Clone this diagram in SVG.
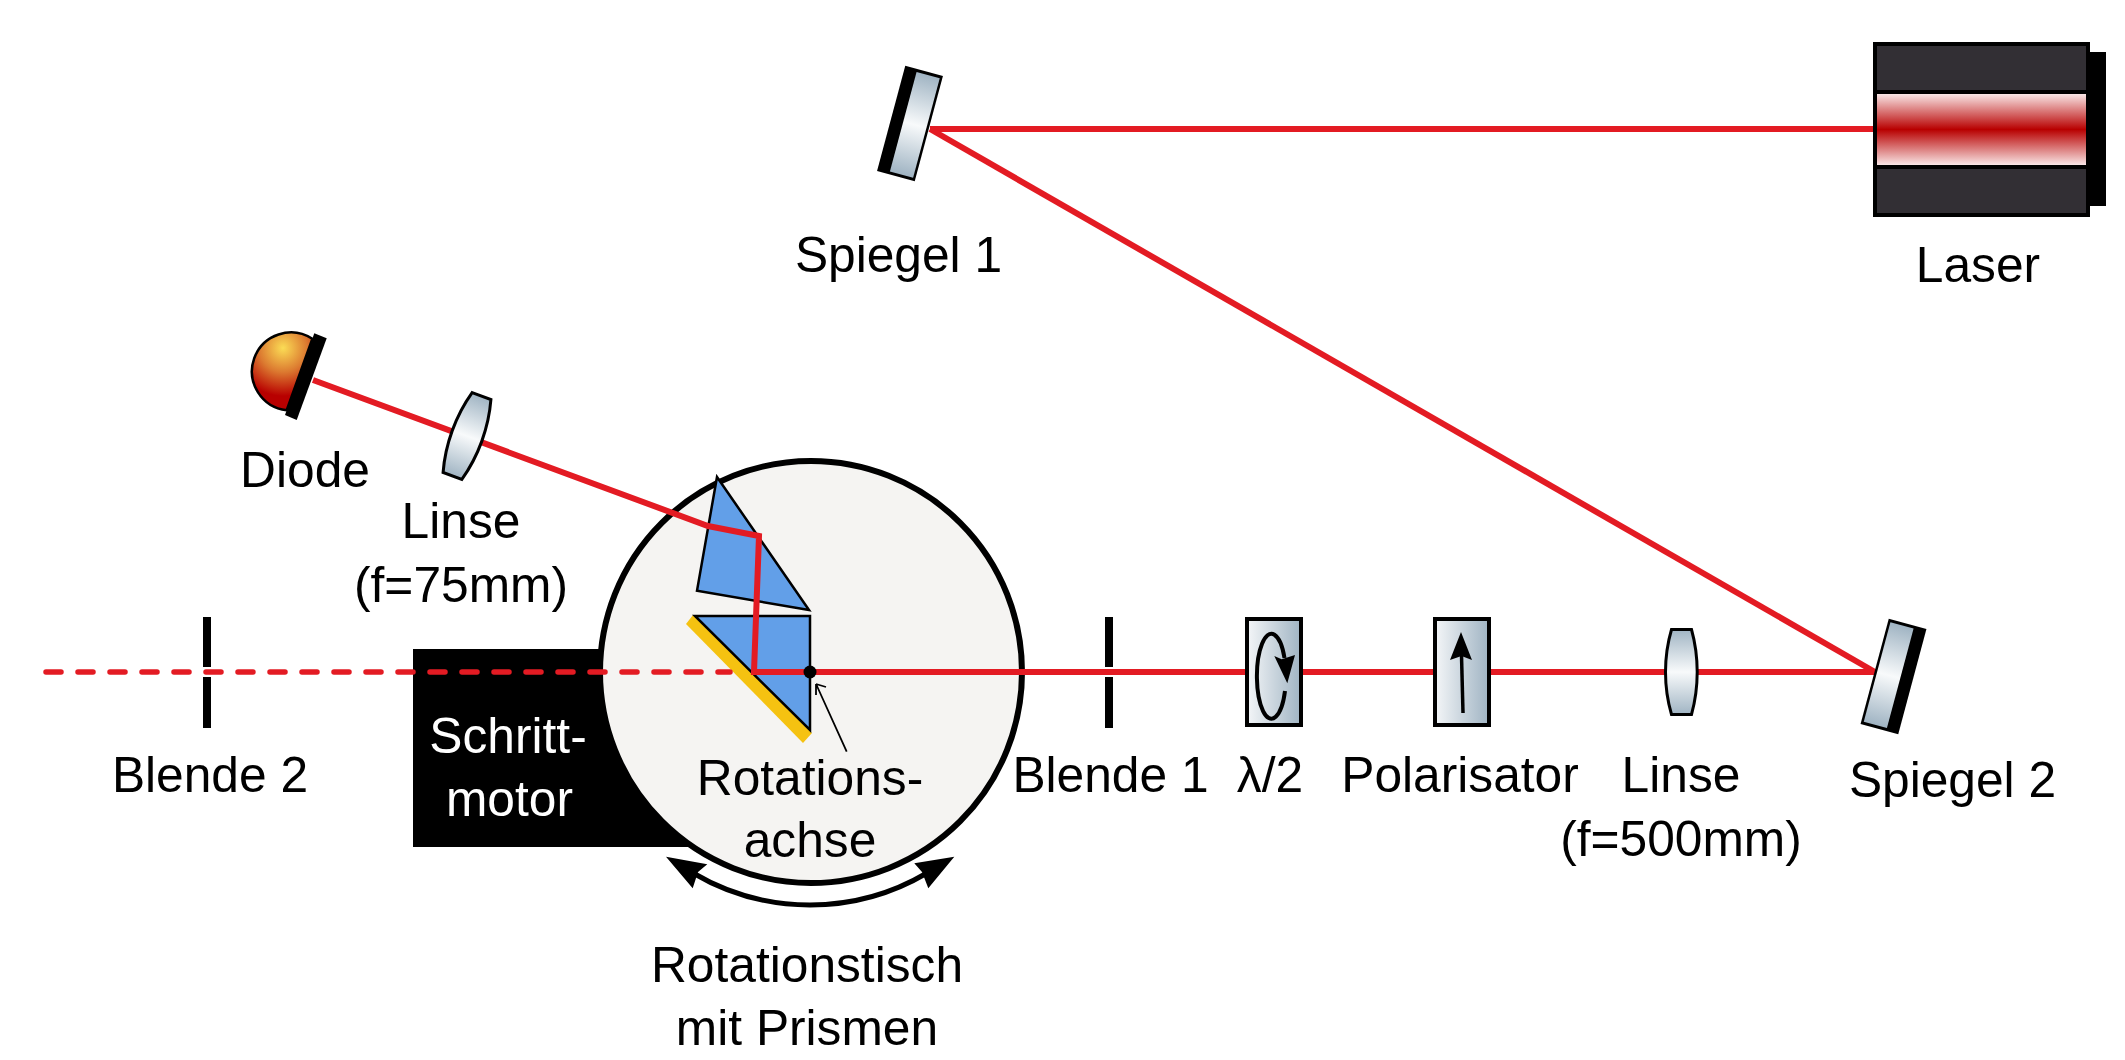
<svg xmlns="http://www.w3.org/2000/svg" width="2125" height="1060" viewBox="0 0 2125 1060">
<style>
text{font-family:"Liberation Sans",Arial,sans-serif;font-size:49.7px;fill:#000;text-anchor:middle}
.beam{fill:none;stroke:#e31b23;stroke-width:6}
.dash{fill:none;stroke:#e31b23;stroke-width:5.500;stroke-linecap:round;stroke-dasharray:15 17}
.bar{fill:none;stroke:#000;stroke-width:8}
.lens{fill:url(#glassV);stroke:#000;stroke-width:3}
.prism{fill:#629fe8;stroke:#000;stroke-width:2.500}
.head{fill:#000;stroke:none}
.wave{fill:url(#glassH);stroke:#000;stroke-width:4}
.dark{fill:#322f34}
</style>
<defs>
<linearGradient id="glassV" x1="0" y1="0" x2="0" y2="1"><stop offset="0" stop-color="#a0b4c3"/><stop offset="0.5" stop-color="#f8fafb"/><stop offset="1" stop-color="#a0b4c3"/></linearGradient>
<linearGradient id="glassH" x1="0" y1="0" x2="1" y2="0"><stop offset="0" stop-color="#f4f6f8"/><stop offset="1" stop-color="#a0b4c3"/></linearGradient>
<linearGradient id="laserG" x1="0" y1="0" x2="0" y2="1"><stop offset="0" stop-color="#f9e6e6"/><stop offset="0.5" stop-color="#b80000"/><stop offset="1" stop-color="#f9e6e6"/></linearGradient>
<radialGradient id="diodeG" gradientUnits="userSpaceOnUse" cx="283" cy="348" r="48"><stop offset="0" stop-color="#fbdc55"/><stop offset="0.5" stop-color="#dc7a30"/><stop offset="1" stop-color="#b80000"/></radialGradient>
</defs>

<g id="schrittmotor"><rect x="413" y="649" width="300" height="198" fill="#000"/><text x="508" y="753" style="fill:#fff">Schritt-</text><text x="509.500" y="816" style="fill:#fff">motor</text></g>
<g id="rotationstisch"><circle cx="811" cy="672" r="211" fill="#f5f4f2" stroke="#000" stroke-width="6"/>
<path d="M693 873A230 230 0 0 0 927 873" fill="none" stroke="#000" stroke-width="5"/>
<path class="head" d="M666 856.700L707.300 864.300L698 872L692.700 888.300Z"/>
<path class="head" d="M954.300 856.700L914.300 863.300L922 872L928.300 888.300Z"/>
<text x="807" y="982">Rotationstisch</text><text x="807" y="1045">mit Prismen</text></g>
<g id="prismen">
<path d="M693 615L686 624L803 743L812 733Z" fill="#f5c211"/>
<path class="prism" d="M717 477L809 610L697 590.700Z"/>
<path class="prism" d="M695 616L810 616L810 730Z"/>
</g>

<g id="connectors">
<path class="beam" d="M930 129L1875 129"/>
<path class="beam" d="M930 129L1875 672"/>
<path class="beam" d="M1875 672L754 672L759 536L708 526L313 380"/>
<path class="dash" d="M46 672L730 672"/>
<path d="M846.700 751.700L816.500 685M816 684L826 687M816 684L816 695" fill="none" stroke="#000" stroke-width="1.800"/>
</g>

<g id="rotationsachse"><circle cx="810" cy="672" r="6.500" fill="#000"/><text x="810" y="795">Rotations-</text><text x="810" y="857">achse</text></g>
<g id="laser"><rect x="2085" y="52" width="21" height="154" fill="#000"/><rect x="1873" y="42" width="217" height="175" fill="#000"/><rect class="dark" x="1877" y="46" width="209" height="44"/><rect x="1877" y="94" width="209" height="71" fill="url(#laserG)"/><rect class="dark" x="1877" y="169" width="209" height="44"/><text x="1978" y="282">Laser</text></g>
<g id="spiegel1"><g transform="translate(910 123.500) rotate(15)"><rect x="-19.500" y="-54.500" width="39" height="109" fill="#000"/><rect x="-7" y="-51.500" width="24" height="103" fill="url(#glassV)"/></g><text x="898.500" y="272">Spiegel 1</text></g>
<g id="spiegel2"><g transform="translate(1893.500 676.500) rotate(15)"><rect x="-19.500" y="-54.500" width="39" height="109" fill="#000"/><rect x="-17" y="-51.500" width="24" height="103" fill="url(#glassV)"/></g><text x="1952.500" y="797">Spiegel 2</text></g>
<g id="linse500"><path class="lens" d="M1671.500 629.500L1691.500 629.500Q1697.200 650 1697.200 672Q1697.200 694 1691.500 714.500L1671.500 714.500Q1665.500 694 1665.500 672Q1665.500 650 1671.500 629.500Z"/><text x="1681" y="792">Linse</text><text x="1681" y="856">(f=500mm)</text></g>
<g id="polarisator"><rect class="wave" x="1435" y="619" width="54" height="106"/><path d="M1463 713L1461.500 655" fill="none" stroke="#000" stroke-width="3.500"/><path class="head" d="M1461 632L1472 660L1461.500 656L1450 660Z"/><text x="1460" y="792">Polarisator</text></g>
<g id="lambda2"><rect class="wave" x="1247" y="619" width="54" height="106"/><path d="M1285 691A14.500 42.500 0 1 1 1284.500 658" fill="none" stroke="#000" stroke-width="4"/><path class="head" d="M1274.300 656L1281.700 659.300L1295 655L1287.300 683.300Z"/><text x="1270" y="792">λ/2</text></g>
<g id="blende1"><path class="bar" d="M1109 617V667M1109 677V728"/><text x="1110.500" y="792">Blende 1</text></g>
<g id="blende2"><path class="bar" d="M207 617V667M207 677V728"/><text x="210" y="792">Blende 2</text></g>
<g id="linse75"><path class="lens" transform="translate(467 436) rotate(20)" d="M-10 -42.500L10 -42.500Q15.700 -22 15.700 0Q15.700 22 10 42.500L-10 42.500Q-15.700 22 -15.700 0Q-15.700 -22 -10 -42.500Z"/><text x="461" y="538">Linse</text><text x="461" y="602">(f=75mm)</text></g>
<g id="diode"><path d="M312.300 338.800A39 39 0 1 0 286.700 410.200Z" fill="url(#diodeG)" stroke="#000" stroke-width="2.500"/><path d="M314.300 333.300L326.700 338.300L296.700 420L285 415Z" fill="#000"/><text x="305" y="487">Diode</text></g>
</svg>
